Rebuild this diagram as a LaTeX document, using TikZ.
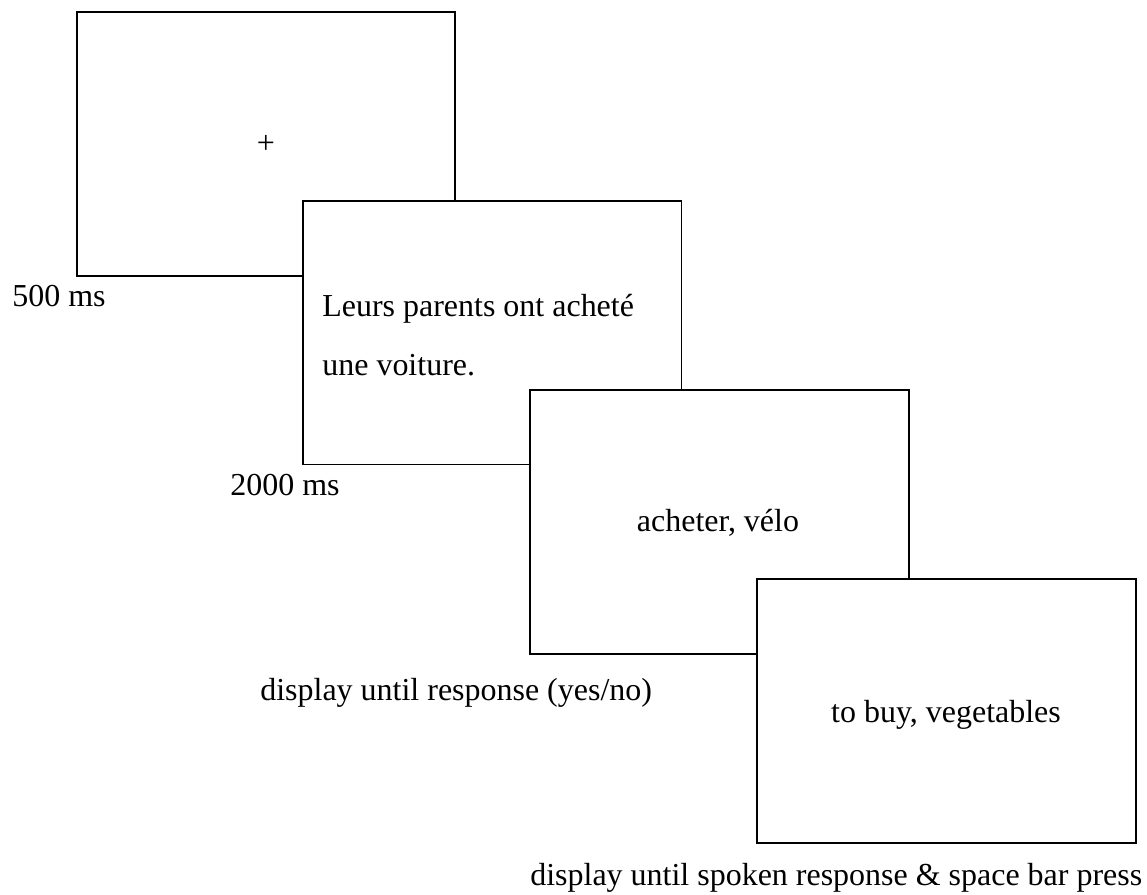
\documentclass[tikz,border=0pt]{standalone}
\usepackage{fontspec}
\setmainfont{Liberation Serif}
\usepackage{tikz}

\begin{document}
\begin{tikzpicture}[
    x=0.02cm, y=-0.02cm,
    screen/.style={rectangle, draw, line width=1.1pt, fill=white, inner sep=0pt, minimum width=7.58cm, minimum height=5.28cm},
    txt/.style={font=\fontsize{18.2}{22}\selectfont, inner sep=0pt},
    lbl/.style={txt, anchor=base west}
]
    \useasboundingbox (0,0) rectangle (1147,894);

    % Fixation screen
    \node[screen] (s1) at (266,144) {};
    \node[txt] (fix) at (266,144) {+};

    % Sentence screen
    \node[screen] (s2) at (492,332.5) {};
    \node[lbl] (sent1) at (322,316) {Leurs parents ont acheté};
    \node[lbl] (sent2) at (322,375) {une voiture.};

    % Probe screen
    \node[screen] (s3) at (719.5,522) {};
    \node[txt, anchor=base] (probe) at (718,531) {acheter, vélo};

    % Translation screen
    \node[screen] (s4) at (946.5,711) {};
    \node[txt, anchor=base] (transl) at (946,722) {to buy, vegetables};

    % Durations
    \node[lbl] (t1) at (12,306) {500 ms};
    \node[lbl] (t2) at (230,495) {2000 ms};
    \node[lbl] (t3) at (260,700) {display until response (yes/no)};
    \node[lbl] (t4) at (530,885) {display until spoken response \& space bar press};
\end{tikzpicture}
\end{document}
